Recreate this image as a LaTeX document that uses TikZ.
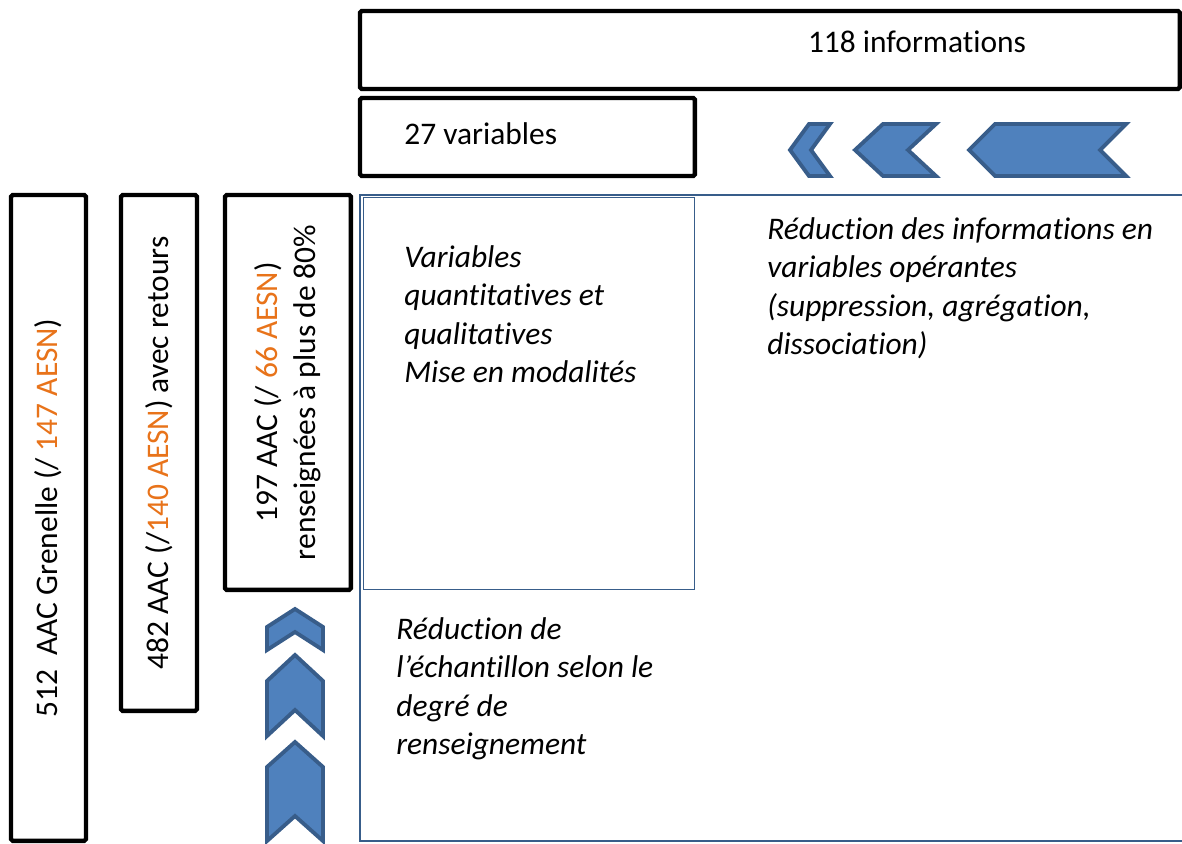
\documentclass[tikz,border=0pt]{standalone}
\usepackage{fontspec}
\setmainfont{Carlito}[Ligatures={NoCommon,NoRare}]
\usepackage{tikz}
\usetikzlibrary{positioning}
\definecolor{bleu}{HTML}{4F81BD}
\definecolor{bleufonce}{HTML}{385D8A}
\definecolor{orangeaesn}{HTML}{E8731A}
\tikzset{
    %Define standard font
    font=\fontsize{17.9pt}{21.9pt}\selectfont,
    %Define style for black boxes
    boite/.style={
           rectangle,
           draw=black, line width=2.5pt,
           rounded corners=1pt,
           inner sep=0pt, outer sep=0pt,
           anchor=north west},
    % Define style for chevrons
    fleche/.style={fill=bleu, draw=bleufonce, line width=2.2pt},
    % Define style for blue frames
    cadre/.style={draw=bleufonce, line width=1.4pt},
    % Define text styles
    texte/.style={inner sep=0pt},
    italique/.style={inner sep=0pt, anchor=north west, align=left,
           font=\fontsize{17.9pt}{21.9pt}\selectfont\itshape}
}
% chevron up: apex y, shoulder y, bottom y
\newcommand{\chevronhaut}[3]{\draw[fleche] (267,#2) -- (295,#1) -- (323,#2) -- (323,#3) -- (295,{#3-#2+#1}) -- (267,#3) -- cycle;}
% chevron left: tip x, shoulder x, right x
\newcommand{\chevrongauche}[3]{\draw[fleche] (#1,150) -- (#2,124) -- (#3,124) -- ({#3-#2+#1},150) -- (#3,176) -- (#2,176) -- cycle;}

\begin{document}
\begin{tikzpicture}[x=0.02cm, y=-0.02cm]
  \useasboundingbox (0,0) rectangle (1182,844);
  % blue frames
  \draw[cadre] (1182,195) -- (360,195) -- (360,841) -- (1182,841);
  \node[rectangle, draw=bleufonce, line width=0.6pt, minimum width=6.62cm, minimum height=7.84cm, anchor=north west, inner sep=0pt] (modal) at (363,197) {};
  % boxes
  \node[boite, minimum width=16.4cm, minimum height=1.56cm] (info118) at (360,11) {};
  \node[boite, minimum width=6.7cm, minimum height=1.56cm] (var27) [below=0.18cm of info118.south west, anchor=north west] {};
  \node[boite, minimum width=1.5cm, minimum height=12.92cm] (aac512) at (11,195) {};
  \node[boite, minimum width=1.52cm, minimum height=10.32cm] (aac482) [right=0.7cm of aac512.north east, anchor=north west] {};
  \node[boite, minimum width=2.52cm, minimum height=7.9cm] (aac197) [right=0.56cm of aac482.north east, anchor=north west] {};
  % texts
  \node[texte] (t118) at (917,42) {118 informations};
  \node[texte, anchor=west] (t27) at (404,134) {27 variables};
  \node[texte, rotate=90] (t512) at (aac512.center) {512~ AAC Grenelle (/ \textcolor{orangeaesn}{147 AESN})};
  \node[texte, rotate=90] (t482) at (aac482.center) {482 AAC (/\textcolor{orangeaesn}{140 AESN}) avec retours};
  \node[texte, rotate=90, align=center] (t197) at (aac197.center) {197 AAC (/ \textcolor{orangeaesn}{66 AESN})\\renseignées à plus de 80\%};
  \node[italique] (tmodal) at (404,245) {Variables\\quantitatives et\\qualitatives\\Mise en modalités};
  \node[italique] (tinfo) at (767,217) {Réduction des informations en\\variables opérantes\\(suppression, agrégation,\\dissociation)};
  \node[italique] (techant) at (396,617) {Réduction de\\l’échantillon selon le\\degré de\\renseignement};
  % chevrons
  \chevronhaut{609}{627}{650}
  \chevronhaut{655}{681}{736}
  \chevronhaut{742}{767}{841}
  \chevrongauche{790}{809}{830}
  \chevrongauche{855}{883}{936}
  \chevrongauche{969}{995}{1126}
\end{tikzpicture}
\end{document}
